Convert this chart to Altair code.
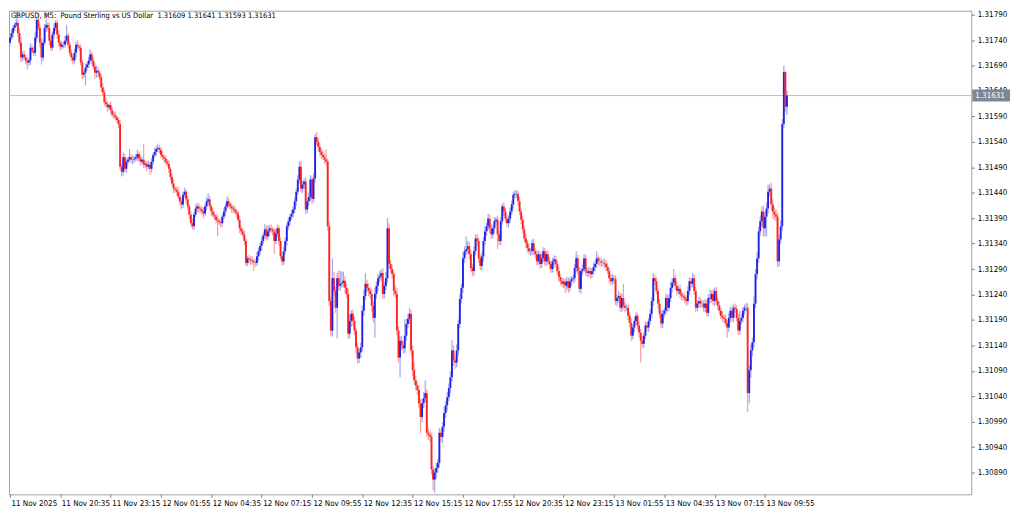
import json
import altair as alt
import pandas as pd

# ---- data (prices in points above 1.30000; 1 point = 0.00001) ----
first_open_points = 1735
close_points = [
    1745,1754,1764,1770,1774,1754,1735,1706,1712,1706,
    1700,1696,1700,1725,1719,1715,1745,1780,1764,1735,
    1706,1735,1764,1770,1764,1739,1725,1751,1764,1774,
    1751,1735,1727,1731,1731,1739,1749,1731,1715,1706,
    1700,1715,1731,1727,1725,1696,1672,1676,1686,1692,
    1700,1712,1700,1688,1676,1680,1676,1667,1647,1637,
    1618,1614,1608,1612,1602,1594,1592,1588,1583,1575,
    1491,1481,1510,1487,1501,1505,1510,1505,1505,1507,
    1510,1516,1507,1501,1505,1495,1497,1491,1495,1487,
    1501,1514,1520,1526,1528,1524,1514,1510,1507,1501,
    1497,1487,1471,1458,1448,1446,1442,1432,1423,1417,
    1436,1442,1427,1413,1397,1380,1374,1397,1409,1413,
    1409,1407,1403,1399,1413,1423,1427,1413,1403,1397,
    1393,1387,1384,1382,1380,1393,1403,1413,1423,1417,
    1413,1409,1407,1403,1399,1387,1370,1364,1358,1345,
    1302,1311,1309,1307,1305,1303,1302,1315,1325,1335,
    1345,1356,1368,1354,1364,1370,1368,1364,1345,1360,
    1370,1345,1315,1305,1325,1345,1374,1384,1393,1399,
    1407,1423,1442,1466,1491,1448,1456,1462,1407,1423,
    1432,1466,1428,1468,1549,1540,1530,1520,1514,1510,
    1505,1501,1374,1227,1169,1272,1247,1214,1272,1257,
    1261,1263,1267,1253,1241,1163,1188,1202,1188,1169,
    1136,1114,1126,1136,1208,1237,1261,1253,1247,1241,
    1218,1194,1241,1257,1272,1276,1282,1241,1257,1272,
    1370,1300,1290,1280,1247,1241,1169,1116,1149,1140,
    1134,1159,1182,1192,1202,1130,1091,1071,1061,1052,
    1026,999,1026,1036,1046,968,964,960,896,876,
    890,899,909,968,960,980,1007,1022,1038,1056,
    1077,1130,1110,1106,1130,1182,1231,1253,1311,1325,
    1329,1335,1319,1292,1286,1325,1350,1345,1311,1296,
    1315,1345,1364,1374,1389,1370,1358,1370,1384,1387,
    1358,1345,1384,1413,1403,1389,1380,1389,1403,1417,
    1436,1438,1438,1423,1403,1387,1368,1350,1341,1331,
    1325,1325,1341,1325,1319,1305,1319,1300,1311,1325,
    1305,1319,1305,1300,1290,1305,1309,1300,1286,1274,
    1266,1261,1265,1257,1266,1253,1266,1270,1272,1292,
    1311,1286,1251,1286,1290,1311,1286,1282,1286,1280,
    1286,1294,1300,1311,1305,1305,1302,1302,1300,1294,
    1286,1272,1266,1272,1270,1227,1233,1237,1214,1233,
    1218,1214,1214,1198,1184,1159,1175,1188,1198,1179,
    1165,1149,1143,1159,1179,1175,1188,1202,1227,1272,
    1266,1247,1222,1202,1183,1202,1208,1233,1214,1233,
    1253,1263,1272,1257,1247,1251,1241,1237,1235,1231,
    1227,1247,1266,1261,1272,1247,1214,1222,1227,1222,
    1222,1214,1222,1204,1233,1231,1241,1227,1247,1227,
    1218,1208,1198,1194,1192,1184,1175,1194,1208,1194,
    1214,1212,1194,1169,1188,1194,1208,1214,1214,1046,
    1091,1130,1146,1222,1280,1311,1364,1384,1403,1370,
    1393,1409,1442,1448,1417,1403,1397,1393,1305,1348,
    1374,1575,1677,1609,1631,
]
upper_wick_points = [
    6,8,5,4,23,7,9,12,6,8,
    5,7,4,9,6,8,10,6,12,8,
    9,6,8,24,5,10,7,6,9,5,
    6,8,4,7,6,9,21,5,7,6,
    5,8,6,9,4,7,6,5,8,6,
    7,9,5,6,8,10,7,5,6,9,
    5,7,6,4,8,6,5,7,4,6,
    8,5,9,6,7,5,16,6,8,5,
    6,9,5,7,6,31,6,5,8,6,
    7,5,8,6,9,5,6,7,5,6,
    5,7,4,6,8,5,6,9,5,7,
    6,8,5,7,4,6,9,5,8,6,
    7,5,6,8,5,9,12,6,5,7,
    6,5,8,6,7,5,8,6,10,7,
    5,7,6,8,5,6,7,5,6,8,
    6,5,7,6,8,5,6,9,7,6,
    8,6,10,7,12,6,8,5,6,9,
    7,5,8,6,9,7,6,8,5,7,
    6,8,7,9,10,12,8,6,9,7,
    8,9,6,10,6,10,7,8,6,9,
    7,20,6,8,9,39,12,8,10,15,
    25,22,18,9,8,10,12,7,9,8,
    6,8,7,9,10,12,21,8,9,7,
    10,8,12,9,8,10,7,9,8,12,
    20,10,8,9,7,10,12,8,9,10,
    8,32,10,9,12,8,10,16,9,8,
    10,8,9,12,25,8,10,9,8,7,
    8,9,7,10,8,9,12,8,10,9,
    12,20,10,8,12,9,10,8,12,9,
    25,10,8,9,7,10,8,9,7,8,
    9,8,10,7,10,8,9,7,8,6,
    8,7,9,6,8,7,9,6,8,7,
    6,8,6,7,9,6,8,7,9,6,
    8,6,7,9,6,8,7,6,9,8,
    7,6,9,8,6,7,8,6,7,9,
    6,8,7,6,9,7,8,6,7,8,
    14,7,8,6,9,8,7,6,8,7,
    6,8,7,14,6,8,7,6,9,7,
    8,6,7,9,6,8,7,10,6,8,
    28,7,6,8,7,9,6,8,7,6,
    8,7,9,6,8,7,6,9,8,10,
    7,8,6,9,7,8,6,9,7,8,
    12,9,18,7,8,6,9,7,8,6,
    7,9,8,6,10,7,8,6,9,7,
    8,6,9,7,8,18,7,9,6,8,
    7,8,6,9,7,8,6,9,7,8,
    6,8,7,9,20,8,7,6,9,8,
    10,12,9,14,10,12,9,11,10,12,
    10,12,14,8,12,10,9,11,8,10,
    12,10,13,3,10,
]
lower_wick_points = [
    7,5,9,6,4,8,6,10,7,5,
    8,14,6,9,5,7,6,8,5,9,
    14,7,5,8,6,9,7,5,8,6,
    9,6,8,5,7,6,5,8,6,7,
    8,6,9,5,7,6,9,7,25,6,
    7,5,8,6,12,10,9,6,8,5,
    7,6,9,5,8,6,7,5,6,8,
    6,9,7,5,8,6,5,7,9,6,
    5,7,6,8,5,7,6,9,5,12,
    7,6,5,8,6,7,5,6,8,7,
    6,8,7,5,9,6,7,5,8,10,
    7,5,8,6,9,7,6,8,5,7,
    8,6,7,9,5,8,6,7,9,6,
    7,8,30,6,9,7,5,8,6,7,
    6,9,7,5,8,6,9,7,5,8,
    7,6,8,9,6,17,7,6,8,7,
    9,6,7,8,6,9,7,8,26,6,
    7,9,6,8,7,6,9,7,8,6,
    8,7,9,6,8,7,9,8,10,7,
    9,8,10,7,8,6,9,7,8,6,
    8,7,9,10,10,12,9,10,60,9,
    10,8,9,12,8,10,9,12,10,9,
    12,10,9,11,8,10,9,8,10,9,
    12,10,39,9,10,8,9,10,9,8,
    9,10,8,9,10,8,9,10,39,9,
    10,9,10,8,9,10,12,9,10,9,
    9,31,10,9,8,8,10,9,10,21,
    26,12,10,9,10,12,10,9,10,8,
    10,9,10,12,9,10,8,9,10,9,
    8,9,10,8,10,9,8,10,9,8,
    9,10,8,9,8,10,9,8,9,8,
    29,8,9,7,9,8,7,9,8,7,
    8,7,9,8,7,9,8,7,9,8,
    7,9,8,7,9,8,7,9,8,7,
    9,8,7,9,8,7,9,8,7,9,
    8,7,9,14,8,10,7,9,8,7,
    9,8,7,9,8,7,9,8,7,9,
    8,7,9,8,7,9,8,7,9,8,
    7,9,8,7,9,8,10,9,8,9,
    8,9,7,8,9,10,8,9,7,8,
    9,43,8,9,7,8,9,7,8,9,
    8,7,9,8,10,9,7,8,9,7,
    8,9,7,8,9,7,8,9,7,8,
    9,7,8,9,7,8,9,7,8,9,
    7,8,9,7,8,9,7,8,9,7,
    8,9,7,8,9,7,20,9,8,7,
    9,8,7,9,8,7,9,8,7,37,
    20,15,12,10,9,10,8,9,10,16,
    16,39,10,9,12,14,10,9,12,10,
    8,9,8,10,16,
]

x_tick_bars = [0, 32, 64, 96, 128, 160, 192, 224, 256, 288, 320, 352, 384, 416, 448, 480]
x_tick_labels = ["11 Nov 2025", "11 Nov 20:35", "11 Nov 23:15", "12 Nov 01:55",
                 "12 Nov 04:35", "12 Nov 07:15", "12 Nov 09:55", "12 Nov 12:35",
                 "12 Nov 15:15", "12 Nov 17:55", "12 Nov 20:35", "12 Nov 23:15",
                 "13 Nov 01:55", "13 Nov 04:35", "13 Nov 07:15", "13 Nov 09:55"]
y_tick_values = [1.30890, 1.30940, 1.30990, 1.31040, 1.31090, 1.31140, 1.31190,
                 1.31240, 1.31290, 1.31340, 1.31390, 1.31440, 1.31490, 1.31540,
                 1.31590, 1.31640, 1.31690, 1.31740, 1.31790]
header_text = "GBPUSD, M5:\u00a0\u00a0Pound Sterling vs US Dollar\u00a0\u00a01.31609 1.31641 1.31593 1.31631"

# ---- build OHLC table ----
rows = []
prev = first_open_points
for i, (c, u, l) in enumerate(zip(close_points, upper_wick_points, lower_wick_points)):
    o = prev
    rows.append({
        "bar": i,
        "open": 1.3 + o / 1e5,
        "close": 1.3 + c / 1e5,
        "high": 1.3 + (max(o, c) + u) / 1e5,
        "low": 1.3 + (min(o, c) - l) / 1e5,
    })
    prev = c
df = pd.DataFrame(rows)
last_price = df["close"].iloc[-1]
last_df = pd.DataFrame({"price": [last_price], "label": [f"{last_price:.5f}"]})

FONT = "Liberation Sans Narrow, DejaVu Sans Condensed, Liberation Sans, sans-serif"

xscale = alt.Scale(domain=[-0.631, 611.2], nice=False, zero=False)
yscale = alt.Scale(domain=[1.308470, 1.317978], nice=False, zero=False)

label_expr = json.dumps(x_tick_labels) + "[round(datum.value / 32)]"
xaxis = alt.Axis(values=x_tick_bars, labelExpr=label_expr, orient="bottom", title=None,
                 domain=False, grid=False, ticks=True, tickSize=3, tickColor="#808080",
                 labelAlign="left", labelBaseline="top", labelPadding=2, labelOffset=1,
                 labelFlush=False, labelOverlap=False, labelFont=FONT, labelFontSize=8,
                 labelColor="#000000")
yaxis = alt.Axis(values=y_tick_values, format=".5f", orient="right", title=None,
                 domain=False, grid=False, ticks=True, tickSize=3, tickColor="#808080",
                 labelPadding=3, labelFlush=False, labelOverlap=False, labelFont=FONT,
                 labelFontSize=8, labelColor="#000000")

X = alt.X("bar:Q", scale=xscale, axis=xaxis)

price_line = alt.Chart(last_df).mark_rule(color="#b9bcc8", strokeWidth=1).encode(
    y=alt.Y("price:Q", scale=yscale, axis=yaxis)
)

wicks = alt.Chart(df).mark_rule(strokeWidth=1.2).encode(
    x=X,
    y=alt.Y("low:Q", scale=yscale, axis=yaxis),
    y2="high:Q",
    color=alt.condition("datum.close >= datum.open", alt.value("#a4a6f0"), alt.value("#f5a0a0")),
)

bodies = alt.Chart(df).mark_rule(strokeWidth=1.9).encode(
    x=X,
    y=alt.Y("open:Q", scale=yscale, axis=yaxis),
    y2="close:Q",
    color=alt.condition("datum.close >= datum.open", alt.value("#2222e6"), alt.value("#ff2222")),
)

price_box = alt.Chart(last_df).mark_rule(strokeWidth=12, color="#7b8896", strokeCap="butt").encode(
    x=alt.value(970), x2=alt.value(1008),
    y=alt.Y("price:Q", scale=yscale, axis=yaxis),
)

price_text = alt.Chart(last_df).mark_text(align="left", baseline="middle", color="white",
                                           font=FONT, fontSize=8).encode(
    x=alt.value(973),
    y=alt.Y("price:Q", scale=yscale, axis=yaxis),
    text="label:N",
)

header = alt.Chart(pd.DataFrame({"t": [header_text]})).mark_text(
    align="left", baseline="top", color="#000000", font=FONT, fontSize=7.6
).encode(x=alt.value(2), y=alt.value(1), text="t:N")

chart = alt.layer(price_line, wicks, bodies, price_box, price_text, header).properties(
    width=969, height=487, padding=0, background="white"
).configure_view(stroke="#a0a0a0", strokeWidth=1)

chart.save("out.html", embed_options={"renderer": "svg", "actions": False})
